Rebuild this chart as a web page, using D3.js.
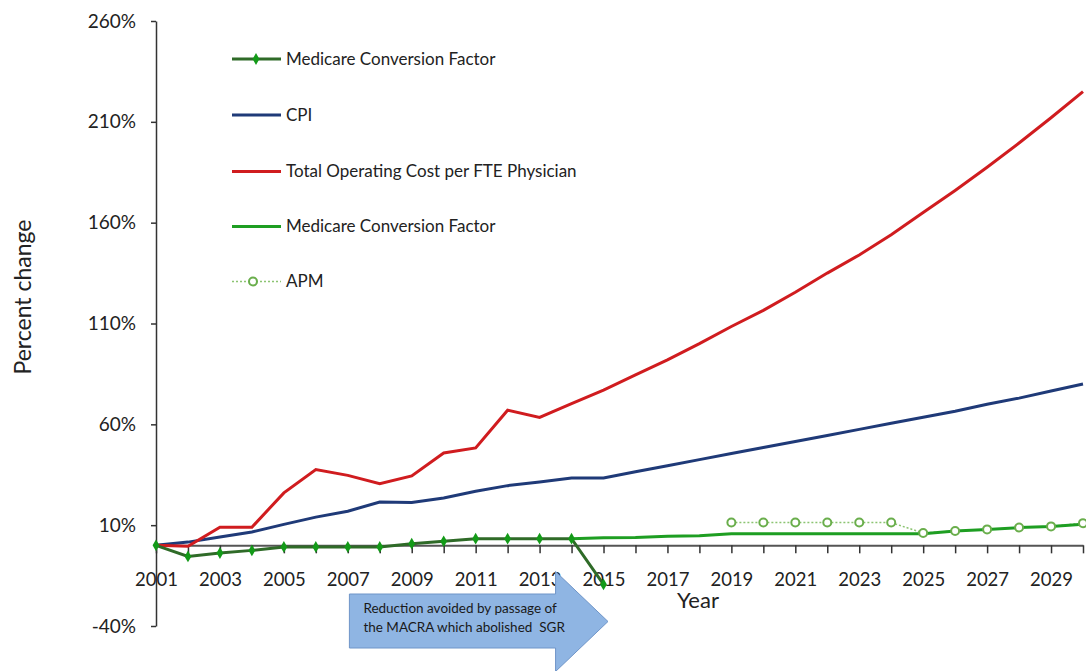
<!DOCTYPE html>
<html><head><meta charset="utf-8">
<script src="https://cdn.jsdelivr.net/npm/d3@7"></script>
<style>body{margin:0;background:#fff;} svg{display:block;font-family:Lato,"Open Sans",sans-serif;}</style>
</head><body><svg id="c" width="1086" height="671"></svg>
<script>
const years = d3.range(2001, 2031);
const yTicks = [-40, 10, 60, 110, 160, 210, 260];
const xLabelYears = d3.range(2001, 2030, 2);
const totalCost = [0, -0.5, 9, 9, 26, 37.6, 34.7, 30.6, 34.4, 45.8, 48.3, 67, 63.4, 70.3, 77, 84.5, 92, 100, 108.5, 116.5, 125.5, 135, 144, 154, 165, 176, 187.5, 199.5, 212, 225];
const cpi = [0, 1.6, 4.1, 6.6, 10.4, 14, 16.9, 21.5, 21.3, 23.5, 26.8, 29.6, 31.4, 33.4, 33.4, 36.5, 39.5, 42.5, 45.5, 48.5, 51.5, 54.5, 57.5, 60.5, 63.5, 66.5, 70, 73, 76.5, 80];
const cfSgrYears = d3.range(2001, 2016);
const cfSgr = [0, -5.5, -3.8, -2.5, -0.8, -0.8, -0.8, -0.8, 0.8, 2, 3.3, 3.3, 3.3, 3.3, -19.4];
const cfYears = d3.range(2014, 2031);
const cf = [3.3, 3.8, 3.9, 4.5, 4.7, 5.8, 5.8, 5.8, 5.8, 5.8, 5.8, 5.8, 7.1, 7.9, 8.8, 9.4, 10.4];
const apmYears = d3.range(2019, 2031);
const apm = [11.3, 11.3, 11.3, 11.3, 11.3, 11.3, 6.1, 7.1, 7.9, 8.8, 9.4, 11];
const legendLabels = ["Medicare Conversion Factor", "CPI", "Total Operating Cost per FTE Physician", "Medicare Conversion Factor", "APM"];
const arrowText = ["Reduction avoided by passage of", "the MACRA which abolished  SGR"];

const svg = d3.select("#c");
const x = d3.scaleLinear().domain([2001, 2030]).range([156, 1083]);
const y = d3.scaleLinear().domain([-40, 260]).range([626, 21]);
const C = {red: "#d01c1f", navy: "#1f3a78", dk: "#2f6b28", mk: "#139a18", gr: "#1e9e22", apm: "#6aae4c", axis: "#333"};

// Y axis
const ya = svg.append("g").attr("transform", `translate(${x(2001)},0)`)
  .call(d3.axisLeft(y).tickValues(yTicks).tickFormat(d => d + "%").tickSize(5).tickSizeOuter(0).tickPadding(15));
ya.select(".domain").attr("stroke", C.axis).attr("stroke-width", 1.5);
ya.selectAll(".tick line").attr("stroke", C.axis).attr("stroke-width", 1.5);
ya.selectAll("text").attr("font-size", 19).attr("fill", "#222").attr("font-family", "Lato");

// X axis at 0
const xa = svg.append("g").attr("transform", `translate(0,${y(0)})`)
  .call(d3.axisBottom(x).tickValues(years).tickFormat(d => xLabelYears.includes(d) ? String(d) : "").tickSize(8).tickSizeOuter(0).tickPadding(20));
xa.select(".domain").attr("stroke", "#555").attr("stroke-width", 2);
xa.selectAll(".tick line").attr("stroke", C.axis).attr("stroke-width", 1.5);
xa.selectAll("text").attr("font-size", 18.5).attr("fill", "#222").attr("font-family", "Lato");

// Axis titles
svg.append("text").attr("transform", `translate(31,${297}) rotate(-90)`).attr("text-anchor", "middle")
  .attr("font-size", 23).attr("fill", "#222").text("Percent change");
svg.append("text").attr("x", 698).attr("y", 608).attr("text-anchor", "middle")
  .attr("font-size", 22).attr("fill", "#222").text("Year");

// Arrow
const arrowPts = [[x(2007.05), 594], [x(2013.5), 594], [x(2013.5), 571.5], [x(2015.14), 621.5], [x(2013.5), 671.5], [x(2013.5), 648], [x(2007.05), 648]];
svg.append("path").attr("d", d3.line()(arrowPts) + "Z").attr("fill", "#8fb5e3").attr("stroke", "#6f95c8").attr("stroke-width", 1);
svg.append("text").attr("x", x(2007.05) + 14).attr("y", 613).attr("font-size", 13.5).attr("fill", "#1a1a1a")
  .style("white-space", "pre")
  .selectAll("tspan").data(arrowText).join("tspan").attr("x", x(2007.05) + 14).attr("dy", (d, i) => i ? 19 : 0).text(d => d);

const line = d3.line().x(d => x(d[0])).y(d => y(d[1]));
const zip = (xs, vs) => xs.map((v, i) => [v, vs[i]]);

// APM dotted
svg.append("path").attr("d", line(zip(apmYears, apm))).attr("fill", "none").attr("stroke", "#8cc472").attr("stroke-width", 1.5).attr("stroke-dasharray", "2,2");
// Medicare CF (green)
svg.append("path").attr("d", line(zip(cfYears, cf))).attr("fill", "none").attr("stroke", C.gr).attr("stroke-width", 3);
// CPI
svg.append("path").attr("d", line(zip(years, cpi))).attr("fill", "none").attr("stroke", C.navy).attr("stroke-width", 3);
// Total cost
svg.append("path").attr("d", line(zip(years, totalCost))).attr("fill", "none").attr("stroke", C.red).attr("stroke-width", 3);
// Medicare CF SGR
svg.append("path").attr("d", line(zip(cfSgrYears, cfSgr))).attr("fill", "none").attr("stroke", C.dk).attr("stroke-width", 3);
svg.append("g").selectAll("path").data(zip(cfSgrYears, cfSgr)).join("path")
  .attr("transform", d => `translate(${x(d[0])},${y(d[1])})`)
  .attr("d", d3.symbol(d3.symbolDiamond, 40)).attr("fill", C.mk);
// APM circles
svg.append("g").selectAll("circle").data(zip(apmYears, apm)).join("circle")
  .attr("cx", d => x(d[0])).attr("cy", d => y(d[1])).attr("r", 4)
  .attr("fill", "#fff").attr("stroke", C.apm).attr("stroke-width", 2);

// Legend
const legY = [59, 115, 171.5, 226.5, 281.5];
const legColors = [C.dk, C.navy, C.red, C.gr, "#8cc472"];
const lg = svg.append("g");
legendLabels.forEach((t, i) => {
  const g = lg.append("g").attr("transform", `translate(0,${legY[i]})`);
  const ln = g.append("line").attr("x1", 232).attr("x2", 281).attr("stroke", legColors[i]).attr("stroke-width", i === 4 ? 1.5 : 3);
  if (i === 4) ln.attr("stroke-dasharray", "2,2");
  if (i === 0) g.append("path").attr("transform", "translate(256,0)").attr("d", d3.symbol(d3.symbolDiamond, 40)).attr("fill", C.mk);
  if (i === 4) g.append("circle").attr("cx", 253).attr("r", 4).attr("fill", "#fff").attr("stroke", C.apm).attr("stroke-width", 2);
  g.append("text").attr("x", 286).attr("y", 0).attr("dy", "0.35em").attr("font-size", 17).attr("fill", "#222").text(t);
});
</script></body></html>
